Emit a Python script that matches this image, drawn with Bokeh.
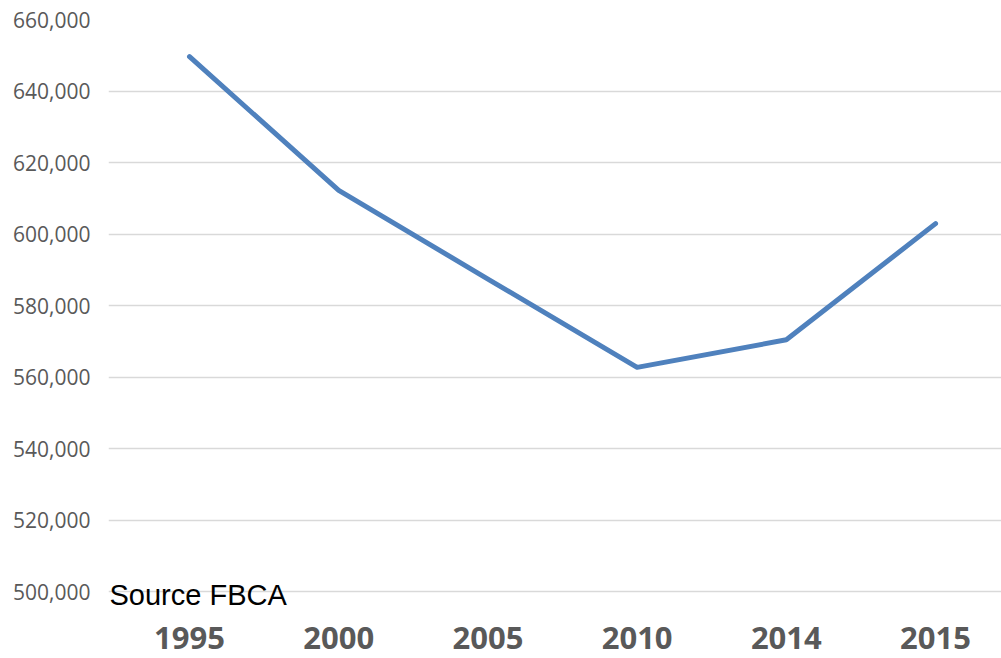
from bokeh.plotting import figure
from bokeh.models import Range1d, FixedTicker, NumeralTickFormatter
from bokeh.core.properties import value
from bokeh.embed import file_html
from bokeh.resources import INLINE

years = ["1995", "2000", "2005", "2010", "2014", "2015"]
values = [649600, 612200, 587400, 562700, 570400, 602900]
source_note = ["Source FBCA"]

xs = list(range(len(years)))

W, H = 1001, 658
left, top, bottom = 108, 19, 50        # frame margins in px
y0, y1 = 495245, 660000
x0, x1 = -0.543, 5.442

p = figure(width=W, height=H, output_backend="svg", toolbar_location=None,
           x_range=Range1d(x0, x1), y_range=Range1d(y0, y1),
           min_border_left=left, min_border_right=0, min_border_top=top, min_border_bottom=bottom)
p.outline_line_color = None
p.background_fill_color = "white"
p.border_fill_color = "white"

p.line(xs, values, line_color="#4F81BD", line_width=5, line_cap="round", line_join="round")

# x axis
p.xaxis.ticker = FixedTicker(ticks=xs)
p.xaxis.major_label_overrides = {i: y for i, y in zip(xs, years)}
p.xaxis.axis_line_color = None
p.xaxis.major_tick_line_color = None
p.xaxis.minor_tick_line_color = None
p.xaxis.major_tick_out = 0
p.xaxis.major_label_standoff = 18
p.xaxis.major_label_text_font = "Open Sans"
p.xaxis.major_label_text_font_style = "bold"
p.xaxis.major_label_text_font_size = "31px"
p.xaxis.major_label_text_color = "#595959"
p.xgrid.grid_line_color = None

# y axis
p.yaxis.ticker = FixedTicker(ticks=list(range(500000, 660001, 20000)))
p.yaxis.formatter = NumeralTickFormatter(format="0,0")
p.yaxis.axis_line_color = None
p.yaxis.major_tick_line_color = None
p.yaxis.minor_tick_line_color = None
p.yaxis.major_tick_out = 0
p.yaxis.major_label_standoff = 18
p.yaxis.major_label_text_font = "Open Sans"
p.yaxis.major_label_text_font_size = "21px"
p.yaxis.major_label_text_color = "#595959"
p.ygrid.grid_line_color = "#D9D9D9"
p.ygrid.grid_line_width = 1.5

# source note, placed just under the 500,000 grid line
px_per_unit_y = (H - top - bottom) / (y1 - y0)
px_per_unit_x = (W - left) / (x1 - x0)
note_x = x0 + 1 / px_per_unit_x
note_y = 500000 - 3 / px_per_unit_y
p.text(x=[note_x], y=[note_y], text=source_note, text_font=value("Liberation Sans"),
       text_font_size="29px", text_color="black", text_baseline="alphabetic",
       text_align="left", level="overlay")

open("out.html", "w").write(file_html(p, INLINE))
